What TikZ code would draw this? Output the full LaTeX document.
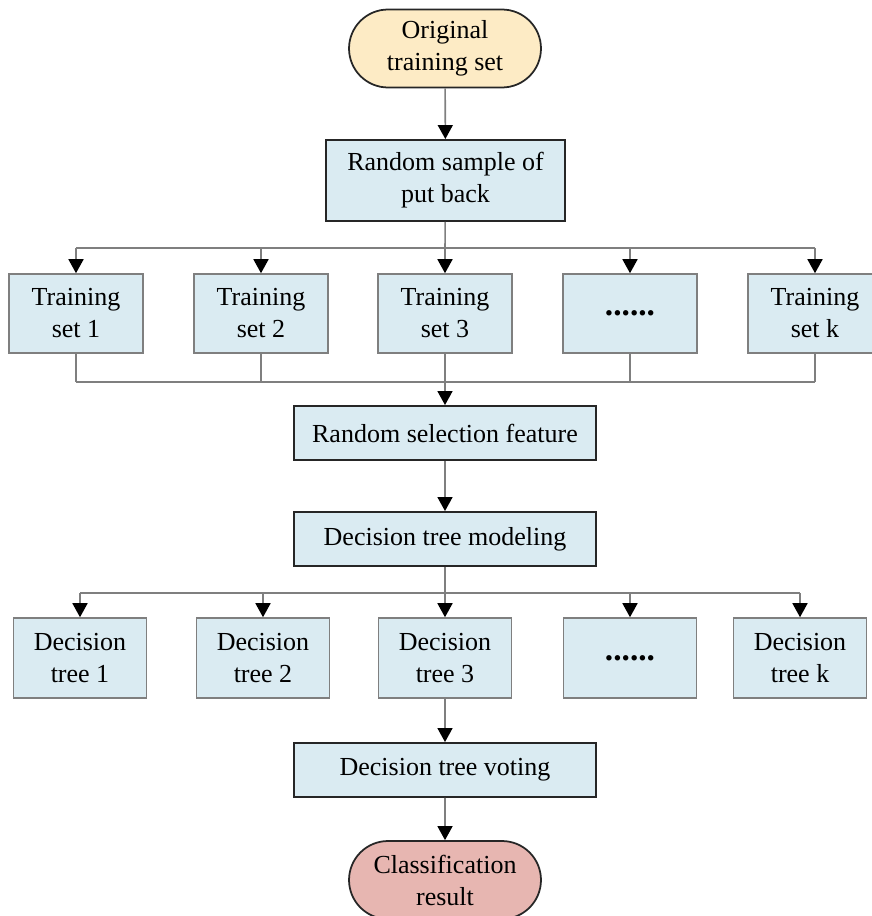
\documentclass[tikz,border=0pt]{standalone}
\usepackage{fontspec}
\setmainfont{Liberation Serif}
\usetikzlibrary{shapes.misc}
\usetikzlibrary{arrows.meta}
\definecolor{boxblue}{HTML}{DAEBF2}
\definecolor{startfill}{HTML}{FDEBC5}
\definecolor{endfill}{HTML}{E7B6B1}
\definecolor{linegray}{HTML}{7F7F7F}
\tikzset{>={Triangle[width=0.3cm,length=0.28cm,color=black]}}
\tikzset{
  mainbox/.style={draw=black!85, line width=1.1pt, fill=boxblue, minimum width=6.04cm,
    minimum height=1.08cm, inner sep=0pt, align=center},
  setbox/.style={draw=linegray, line width=0.9pt, fill=boxblue, minimum width=2.68cm,
    minimum height=1.58cm, inner sep=0pt, align=center},
  term/.style={rounded rectangle, draw=black!85, line width=1pt, minimum width=3.84cm,
    minimum height=1.56cm, inner sep=0pt, align=center},
  conn/.style={draw=linegray, line width=0.9pt},
}
\newcommand{\moredots}{{\fontsize{19}{19}\selectfont\textbf{......}}}

\begin{document}
\begin{tikzpicture}[x=0.02cm, y=-0.02cm, font=\fontsize{14.8}{18.2}\selectfont]
  \useasboundingbox (0,0) rectangle (872,916);

  % start, sampling
  \node[term, fill=startfill] (orig) at (445,48.5) {Original\\training set};
  \node[mainbox, minimum width=4.78cm, minimum height=1.62cm] (sample) at (445.5,180.5) {Random sample of\\put back};
  \draw[conn,->] (orig) -- (sample);

  % training sets
  \coordinate (bar1) at (445,248);
  \coordinate (bar2) at (445,382);
  \foreach \x/\i/\t in {76/1/{Training\\set 1}, 261/2/{Training\\set 2}, 445/3/{Training\\set 3},
                        630/4/{\moredots}, 815/5/{Training\\set k}}
  {
    \node[setbox] (ts\i) at (\x,313.5) {\t};
    \draw[conn,->] (bar1 -| ts\i) -- (ts\i);
    \draw[conn] (ts\i) -- (ts\i |- bar2);
  }
  \draw[conn] (sample) -- (bar1);
  \draw[conn] (bar1 -| ts1) -- (bar1 -| ts5);
  \draw[conn] (bar2 -| ts1) -- (bar2 -| ts5);

  % features, modeling
  \node[mainbox] (feat) at (445,433) {Random selection feature};
  \node[mainbox] (model) at (445,539) {Decision tree modeling};
  \draw[conn,->] (ts3) -- (feat);
  \draw[conn,->] (feat) -- (model);

  % decision trees
  \coordinate (bar3) at (445,593);
  \foreach \x/\i/\t in {80/1/{Decision\\tree 1}, 263/2/{Decision\\tree 2}, 445/3/{Decision\\tree 3},
                        630/4/{\moredots}, 800/5/{Decision\\tree k}}
  {
    \node[setbox, minimum width=2.66cm, minimum height=1.6cm] (dt\i) at (\x,658) {\t};
    \draw[conn,->] (bar3 -| dt\i) -- (dt\i);
  }
  \draw[conn] (model) -- (bar3);
  \draw[conn] (bar3 -| dt1) -- (bar3 -| dt5);

  % voting, result
  \node[mainbox] (vote) at (445,770) {Decision tree voting};
  \node[term, fill=endfill] (result) at (445,880) {Classification\\result};
  \draw[conn,->] (dt3) -- (vote);
  \draw[conn,->] (vote) -- (result);
\end{tikzpicture}
\end{document}
